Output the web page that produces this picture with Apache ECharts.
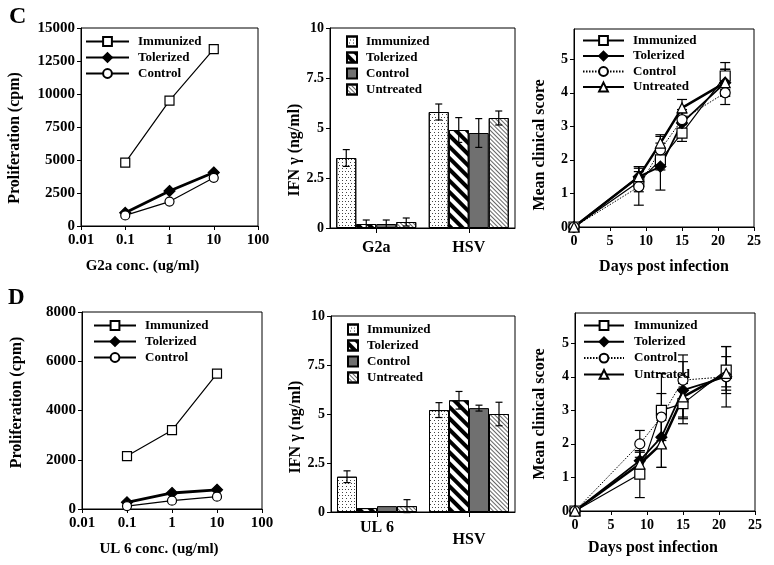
<!DOCTYPE html>
<html><head><meta charset="utf-8">
<script src="https://cdn.jsdelivr.net/npm/echarts/dist/echarts.min.js"></script>
<style>html,body{margin:0;padding:0;background:#fff}#c{width:774px;height:565px}</style>
</head><body><div id="c"></div>
<script>
// ---------- data ----------
const groupNames = ['Immunized', 'Tolerized', 'Control', 'Untreated'];
const logTickLabels = ['0.01', '0.1', '1', '10', '100'];
const concs = [0.1, 1, 10];
const days = [0, 9, 12, 15, 21];

// Panel C (top-left) proliferation, G2a
const c1Immunized = [4800, 9500, 13400];
const c1Tolerized = [1000, 2650, 4050];
const c1Control = [800, 1850, 3650];
// Panel D (bottom-left) proliferation, UL 6
const d1Immunized = [2150, 3200, 5500];
const d1Tolerized = [270, 650, 780];
const d1Control = [120, 340, 500];

// Panel C middle: IFN gamma
const c2Cats = ['G2a', 'HSV'];
const c2Immunized = [3.5, 5.8];
const c2ImmunizedErr = [0.42, 0.4];
const c2Tolerized = [0.2, 4.9];
const c2TolerizedErr = [0.2, 0.62];
const c2Control = [0.2, 4.75];
const c2ControlErr = [0.2, 0.72];
const c2Untreated = [0.3, 5.5];
const c2UntreatedErr = [0.2, 0.35];
// Panel D middle
const d2Cats = ['UL 6', 'HSV'];
const d2Immunized = [1.8, 5.2];
const d2ImmunizedErr = [0.3, 0.38];
const d2Tolerized = [0.2, 5.7];
const d2TolerizedErr = [0, 0.45];
const d2Control = [0.3, 5.3];
const d2ControlErr = [0, 0.15];
const d2Untreated = [0.3, 5.0];
const d2UntreatedErr = [0.33, 0.6];

// Panel C right: clinical score
const c3Immunized = [0, 1.35, 2.0, 2.8, 4.5];
const c3ImmunizedErr = [0, 0.3, 0.3, 0.25, 0.4];
const c3Tolerized = [0, 1.5, 1.8, 3.1, 4.3];
const c3TolerizedErr = [0, 0.3, 0.7, 0.3, 0.4];
const c3Control = [0, 1.2, 2.3, 3.2, 4.0];
const c3ControlErr = [0, 0.55, 0.4, 0.3, 0.35];
const c3Untreated = [0, 1.5, 2.5, 3.55, 4.3];
const c3UntreatedErr = [0, 0.3, 0.25, 0.25, 0.4];
// Panel D right
const d3Immunized = [0, 1.1, 3.0, 3.2, 4.2];
const d3ImmunizedErr = [0, 0.7, 1.1, 0.6, 0.7];
const d3Tolerized = [0, 1.5, 2.2, 3.6, 4.0];
const d3TolerizedErr = [0, 0.3, 0.9, 0.85, 0.9];
const d3Control = [0, 2.0, 2.8, 3.9, 4.0];
const d3ControlErr = [0, 0.4, 0.7, 0.75, 0.3];
const d3Untreated = [0, 1.4, 2.0, 3.4, 4.1];
const d3UntreatedErr = [0, 0.35, 0.7, 0.6, 0.5];

// ---------- styles ----------
const FONT = 'Liberation Serif';
const txt = (s) => ({ fontFamily: FONT, fontWeight: 'bold', fontSize: s, color: '#000' });
const axLine = { show: true, onZero: false, lineStyle: { color: '#000', width: 1 } };
const axTick = { show: true, inside: false, length: 4, lineStyle: { color: '#000', width: 1 } };
const noSplit = { show: false };

const leftStyles = {
  Immunized: { symbol: 'rect', size: 9, fill: '#fff', width: 1.2, type: 'solid' },
  Tolerized: { symbol: 'diamond', size: 11, fill: '#000', width: 2.8, type: 'solid' },
  Control: { symbol: 'circle', size: 9, fill: '#fff', width: 1.2, type: 'solid' }
};
const rightStyles = {
  Immunized: { symbol: 'rect', size: 10, fill: '#fff', width: 1.2, type: 'solid' },
  Tolerized: { symbol: 'diamond', size: 11, fill: '#000', width: 1.8, type: 'solid' },
  Control: { symbol: 'circle', size: 10, fill: '#fff', width: 1, type: [1.5, 1.5] },
  Untreated: { symbol: 'triangle', size: 10, fill: '#fff', width: 2.5, type: 'solid' }
};
const barStyles = {
  Immunized: { color: '#fff', decal: { symbol: 'rect', symbolSize: 1, dashArrayX: [[1, 2], [0, 1.5, 1, 0.5]], dashArrayY: [1, 1.5], color: '#444' } },
  Tolerized: { color: '#fff', decal: { symbol: 'rect', symbolSize: 1, dashArrayX: [1, 0], dashArrayY: [4, 4], rotation: Math.PI / 4, color: '#000' } },
  Control: { color: '#707070' },
  Untreated: { color: '#fff', decal: { symbol: 'rect', symbolSize: 1, dashArrayX: [1, 0], dashArrayY: [1, 2], rotation: Math.PI / 4, color: '#666' } }
};

// ---------- layout ----------
const grids = [
  { left: 81, top: 28, width: 177, height: 198 },
  { left: 330, top: 28, width: 185, height: 200 },
  { left: 574, top: 29, width: 180, height: 198 },
  { left: 82, top: 312, width: 180, height: 197 },
  { left: 331, top: 316, width: 184, height: 196 },
  { left: 575, top: 313, width: 180, height: 198 }
].map(g => Object.assign({ show: true, borderColor: '#000', borderWidth: 1, backgroundColor: 'transparent', containLabel: false, outerBoundsMode: 'none' }, g));

const plain = (v) => String(v);

function logX(gi, name, pad) {
  return {
    type: 'log', gridIndex: gi, min: 0.01, max: 100, logBase: 10,
    axisLine: axLine, axisTick: axTick, splitLine: noSplit, minorTick: { show: false },
    axisLabel: Object.assign(txt(15), { margin: 7, formatter: (v, i) => logTickLabels[i] }),
    name: name, nameLocation: 'middle', nameGap: 33, nameTextStyle: Object.assign(txt(15), { padding: pad })
  };
}
function catX(gi, cats, margin) {
  return {
    type: 'category', gridIndex: gi, data: cats,
    axisLine: axLine, axisTick: Object.assign({}, axTick, { alignWithLabel: true, length: 5 }), splitLine: noSplit,
    axisLabel: Object.assign(txt(16), { margin: margin })
  };
}
function dayX(gi, gap, pad) {
  return {
    type: 'value', gridIndex: gi, min: 0, max: 25, interval: 5,
    axisLine: axLine, axisTick: axTick, splitLine: noSplit,
    axisLabel: Object.assign(txt(14), { margin: 7, formatter: plain }),
    name: 'Days post infection', nameLocation: 'middle', nameGap: gap, nameTextStyle: Object.assign(txt(16), { padding: pad })
  };
}
function valY(gi, max, interval, name, gap, pad, hideMax, fs) {
  return {
    type: 'value', gridIndex: gi, min: 0, max: max, interval: interval,
    axisLine: axLine, axisTick: axTick, splitLine: noSplit,
    axisLabel: Object.assign(txt(fs || 14), { margin: 6, showMaxLabel: !hideMax, formatter: plain }),
    name: name, nameLocation: 'middle', nameGap: gap, nameTextStyle: Object.assign(txt(16), { padding: pad })
  };
}

const xAxis = [
  logX(0, 'G2a conc. (ug/ml)', [0, 54, 0, 0]),
  catX(1, c2Cats, 12),
  dayX(2, 32, [0, 0, 0, 0]),
  logX(3, 'UL 6 conc. (ug/ml)', [0, 26, 0, 0]),
  catX(4, d2Cats, 8),
  dayX(5, 29, [0, 24, 0, 0])
];
xAxis[4].data = [{ value: 'UL 6' }, { value: 'HSV', textStyle: { padding: [12, 0, 0, 0] } }];
const yAxis = [
  valY(0, 15000, 2500, 'Proliferation (cpm)', 58, [0, 22, 0, 0], false, 15),
  valY(1, 10, 2.5, 'IFN γ (ng/ml)', 24, [0, 44, 0, 0]),
  valY(2, 5.9, 1, 'Mean clinical score', 26, [0, 34, 0, 0], true),
  valY(3, 8000, 2000, 'Proliferation (cpm)', 57, [0, 0, 0, 16], false, 15),
  valY(4, 10, 2.5, 'IFN γ (ng/ml)', 25, [0, 26, 0, 0]),
  valY(5, 5.9, 1, 'Mean clinical score', 27, [0, 4, 0, 0], true)
];

// ---------- series builders ----------
const series = [];
function errRender(offset, cap) {
  return function (params, api) {
    const x = api.value(0), v = api.value(1), e = api.value(2);
    if (!e) return null;
    const hi = api.coord([x, v + e]);
    const lo = api.coord([x, v - e]);
    const cx = hi[0] + offset;
    const st = { stroke: '#000', lineWidth: 1.2 };
    return {
      type: 'group', children: [
        { type: 'line', shape: { x1: cx, y1: hi[1], x2: cx, y2: lo[1] }, style: st },
        { type: 'line', shape: { x1: cx - cap, y1: hi[1], x2: cx + cap, y2: hi[1] }, style: st },
        { type: 'line', shape: { x1: cx - cap, y1: lo[1], x2: cx + cap, y2: lo[1] }, style: st }
      ]
    };
  };
}
function addLine(panel, gi, key, xs, ys, errs, st) {
  series.push({
    name: panel + '|' + key, type: 'line', xAxisIndex: gi, yAxisIndex: gi,
    data: xs.map((x, i) => [x, ys[i]]),
    symbol: st.symbol, symbolSize: st.size, showAllSymbol: true,
    lineStyle: { color: '#000', width: st.width, type: st.type },
    itemStyle: { color: st.fill, borderColor: '#000', borderWidth: 1.2 },
    z: 3, animation: false, silent: true
  });
  if (errs) {
    series.push({
      type: 'custom', xAxisIndex: gi, yAxisIndex: gi,
      data: xs.map((x, i) => [x, ys[i], errs[i]]),
      renderItem: errRender(0, 5), z: 2, animation: false, silent: true
    });
  }
}
function addBar(panel, gi, key, idx, ys, errs) {
  const st = barStyles[key];
  series.push({
    name: panel + '|' + key, type: 'bar', xAxisIndex: gi, yAxisIndex: gi,
    data: ys, barWidth: 20, barGap: '0%',
    itemStyle: Object.assign({ borderColor: '#000', borderWidth: 1 }, st),
    z: 2, animation: false, silent: true
  });
  series.push({
    type: 'custom', xAxisIndex: gi, yAxisIndex: gi,
    data: ys.map((v, i) => [i, v, errs[i]]),
    renderItem: errRender(-30 + 20 * idx, 3.5), z: 4, animation: false, silent: true
  });
}

addLine('C1', 0, 'Immunized', concs, c1Immunized, null, leftStyles.Immunized);
addLine('C1', 0, 'Tolerized', concs, c1Tolerized, null, leftStyles.Tolerized);
addLine('C1', 0, 'Control', concs, c1Control, null, leftStyles.Control);
addLine('D1', 3, 'Immunized', concs, d1Immunized, null, leftStyles.Immunized);
addLine('D1', 3, 'Tolerized', concs, d1Tolerized, null, leftStyles.Tolerized);
addLine('D1', 3, 'Control', concs, d1Control, null, leftStyles.Control);

addBar('C2', 1, 'Immunized', 0, c2Immunized, c2ImmunizedErr);
addBar('C2', 1, 'Tolerized', 1, c2Tolerized, c2TolerizedErr);
addBar('C2', 1, 'Control', 2, c2Control, c2ControlErr);
addBar('C2', 1, 'Untreated', 3, c2Untreated, c2UntreatedErr);
addBar('D2', 4, 'Immunized', 0, d2Immunized, d2ImmunizedErr);
addBar('D2', 4, 'Tolerized', 1, d2Tolerized, d2TolerizedErr);
addBar('D2', 4, 'Control', 2, d2Control, d2ControlErr);
addBar('D2', 4, 'Untreated', 3, d2Untreated, d2UntreatedErr);

addLine('C3', 2, 'Immunized', days, c3Immunized, c3ImmunizedErr, rightStyles.Immunized);
addLine('C3', 2, 'Tolerized', days, c3Tolerized, c3TolerizedErr, rightStyles.Tolerized);
addLine('C3', 2, 'Control', days, c3Control, c3ControlErr, rightStyles.Control);
addLine('C3', 2, 'Untreated', days, c3Untreated, c3UntreatedErr, rightStyles.Untreated);
addLine('D3', 5, 'Immunized', days, d3Immunized, d3ImmunizedErr, rightStyles.Immunized);
addLine('D3', 5, 'Tolerized', days, d3Tolerized, d3TolerizedErr, rightStyles.Tolerized);
addLine('D3', 5, 'Control', days, d3Control, d3ControlErr, rightStyles.Control);
addLine('D3', 5, 'Untreated', days, d3Untreated, d3UntreatedErr, rightStyles.Untreated);

// ---------- legends ----------
function lineLegend(panel, keys, left, top, w, gap, tp) {
  return {
    data: keys.map(k => panel + '|' + k), left: left, top: top, orient: 'vertical',
    itemWidth: w, itemHeight: 11, itemGap: gap, selectedMode: false,
    formatter: n => n.split('|')[1],
    textStyle: Object.assign(txt(13), { padding: [0, 0, 0, tp] })
  };
}
function barLegend(panel, left, top) {
  return {
    data: groupNames.map(k => ({ name: panel + '|' + k, icon: 'rect' })), left: left, top: top, orient: 'vertical',
    itemWidth: 10, itemHeight: 10, itemGap: 3, selectedMode: false,
    formatter: n => n.split('|')[1],
    textStyle: Object.assign(txt(13), { padding: [0, 0, 0, 4] })
  };
}
const legend = [
  lineLegend('C1', ['Immunized', 'Tolerized', 'Control'], 80, 30, 43, 3, 4),
  lineLegend('D1', ['Immunized', 'Tolerized', 'Control'], 88, 314, 42, 3, 4),
  barLegend('C2', 341, 30),
  barLegend('D2', 342, 318),
  lineLegend('C3', groupNames, 577, 29, 41, 2.5, 4),
  lineLegend('D3', groupNames, 578, 314, 40, 3.3, 5)
];

const chart = echarts.init(document.getElementById('c'), null, { renderer: 'canvas' });
chart.setOption({
  backgroundColor: '#fff',
  animation: false,
  grid: grids,
  xAxis: xAxis,
  yAxis: yAxis,
  legend: legend,
  series: series,
  graphic: [
    { type: 'text', left: 9, top: 5, style: { text: 'C', font: 'bold 24px "Liberation Serif"', fill: '#000' } },
    { type: 'text', left: 8, top: 287, style: { text: 'D', font: 'bold 23px "Liberation Serif"', fill: '#000' } }
  ]
});
</script>
</body></html>
